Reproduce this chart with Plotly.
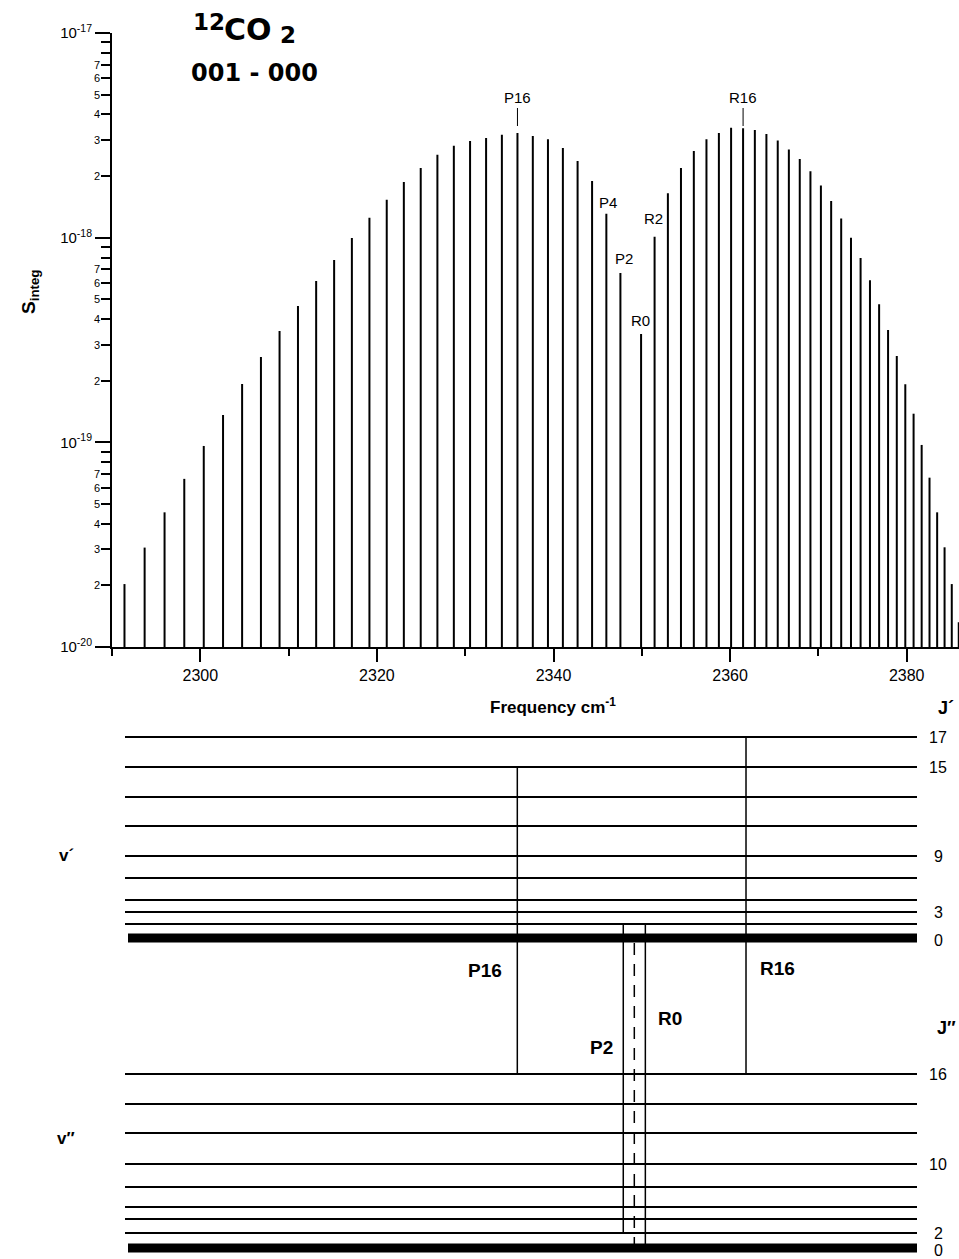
import numpy as np
import plotly.graph_objects as go

# ---------------- data: 12CO2 001-000 band lines ----------------
P_J = [2, 4, 6, 8, 10, 12, 14, 16, 18, 20, 22, 24, 26, 28, 30, 32, 34, 36, 38, 40,
       42, 44, 46, 48, 50, 52, 54, 56, 58, 60]
P_FREQ = [2347.576, 2345.984, 2344.368, 2342.727, 2341.061, 2339.371, 2337.656, 2335.917,
          2334.153, 2332.364, 2330.550, 2328.712, 2326.850, 2324.962, 2323.050, 2321.113,
          2319.153, 2317.166, 2315.155, 2313.121, 2311.061, 2308.976, 2306.867, 2304.734,
          2302.575, 2300.392, 2298.185, 2295.952, 2293.695, 2291.413]
P_S = [6.72e-19, 1.31e-18, 1.89e-18, 2.37e-18, 2.74e-18, 3.03e-18, 3.14e-18, 3.25e-18,
       3.18e-18, 3.07e-18, 2.97e-18, 2.81e-18, 2.54e-18, 2.19e-18, 1.87e-18, 1.53e-18,
       1.25e-18, 9.97e-19, 7.78e-19, 6.14e-19, 4.64e-19, 3.50e-19, 2.61e-19, 1.93e-19,
       1.36e-19, 9.60e-20, 6.63e-20, 4.55e-20, 3.06e-20, 2.03e-20]

R_J = [0, 2, 4, 6, 8, 10, 12, 14, 16, 18, 20, 22, 24, 26, 28, 30, 32, 34, 36, 38, 40,
       42, 44, 46, 48, 50, 52, 54, 56, 58, 60, 62]
R_FREQ = [2349.917, 2351.447, 2352.953, 2354.434, 2355.890, 2357.321, 2358.728, 2360.110,
          2361.468, 2362.801, 2364.110, 2365.393, 2366.652, 2367.887, 2369.096, 2370.281,
          2371.442, 2372.578, 2373.688, 2374.775, 2375.838, 2376.874, 2377.887, 2378.875,
          2379.839, 2380.777, 2381.691, 2382.581, 2383.446, 2384.286, 2385.101, 2385.893]
R_S = [3.38e-19, 1.01e-18, 1.65e-18, 2.19e-18, 2.65e-18, 3.03e-18, 3.25e-18, 3.44e-18,
       3.42e-18, 3.36e-18, 3.21e-18, 2.98e-18, 2.70e-18, 2.42e-18, 2.11e-18, 1.80e-18,
       1.51e-18, 1.24e-18, 1.00e-18, 7.96e-19, 6.19e-19, 4.73e-19, 3.54e-19, 2.64e-19,
       1.92e-19, 1.38e-19, 9.71e-20, 6.72e-20, 4.55e-20, 3.07e-20, 2.03e-20, 1.32e-20]

LABELLED_LINES = ["P16", "R16", "P4", "R2", "P2", "R0"]

X_TICKS = [2300, 2320, 2340, 2360, 2380]
X_MINOR = [2290, 2310, 2330, 2350, 2370]
Y_DECADES = [1e-20, 1e-19, 1e-18, 1e-17]
Y_DECADE_TEXT = ["10<sup>-20</sup>", "10<sup>-19</sup>", "10<sup>-18</sup>", "10<sup>-17</sup>"]
Y_MINOR_DIGITS = [2, 3, 4, 5, 6, 7, 8, 9]
Y_LABELLED_DIGITS = [2, 3, 4, 5, 6, 7]

# ---------------- data: energy level scheme (schematic heights) ----------------
UPPER_J = [17, 15, 13, 11, 9, 7, 5, 3, 1, 0]
UPPER_H = [522, 492, 462, 433, 403, 381, 359, 347, 335, 321]
UPPER_LABELLED = [17, 15, 9, 3, 0]
LOWER_J = [16, 14, 12, 10, 8, 6, 4, 2, 0]
LOWER_H = [185, 155, 126, 95, 72, 52, 40, 26, 11]
LOWER_LABELLED = [16, 10, 2, 0]

TRANS_NAME = ["P16", "R16", "P2", "R0", "Q0"]
TRANS_X = [2335.9, 2361.8, 2347.9, 2350.4, 2349.15]
TRANS_UPPER_J = [15, 17, 1, 1, 0]
TRANS_LOWER_J = [16, 16, 2, 0, 0]
TRANS_ALLOWED = [True, True, True, True, False]

# ---------------- layout helpers ----------------
W, H = 959, 1259
FONT = "Liberation Sans, Arial, Helvetica, sans-serif"
WIDE = "DejaVu Sans, Liberation Sans, sans-serif"
X_RANGE = [2290, 2385.92]
S_FLOOR = 1e-20


def pxx(p):
    return p / W


def pxy(p):
    return 1 - p / H


def f_of_px(p):
    return X_RANGE[0] + (p - 112) * (X_RANGE[1] - X_RANGE[0]) / (959 - 112)


fig = go.Figure()

# spectrum sticks
xs, ys = [], []
for f, s in zip(P_FREQ + R_FREQ, P_S + R_S):
    xs += [f, f, None]
    ys += [S_FLOOR, s, None]
fig.add_trace(go.Scatter(x=xs, y=ys, mode="lines", line=dict(color="black", width=2),
                         hoverinfo="skip", showlegend=False, xaxis="x", yaxis="y"))

# energy levels
lvl_x0, lvl_x1 = f_of_px(125), f_of_px(917)
thin_x, thin_y, thick_x, thick_y = [], [], [], []
for J, h in list(zip(UPPER_J, UPPER_H)) + list(zip(LOWER_J, LOWER_H)):
    if J == 0:
        thick_x += [f_of_px(128), lvl_x1, None]
        thick_y += [h, h, None]
    else:
        thin_x += [lvl_x0, lvl_x1, None]
        thin_y += [h, h, None]
fig.add_trace(go.Scatter(x=thin_x, y=thin_y, mode="lines", line=dict(color="black", width=1.8),
                         hoverinfo="skip", showlegend=False, xaxis="x2", yaxis="y2"))
fig.add_trace(go.Scatter(x=thick_x, y=thick_y, mode="lines", line=dict(color="black", width=9),
                         hoverinfo="skip", showlegend=False, xaxis="x2", yaxis="y2"))

# transitions
up = dict(zip(UPPER_J, UPPER_H))
lo = dict(zip(LOWER_J, LOWER_H))
sx, sy, dx, dy = [], [], [], []
for x, ju, jl, ok in zip(TRANS_X, TRANS_UPPER_J, TRANS_LOWER_J, TRANS_ALLOWED):
    if ok:
        sx += [x, x, None]
        sy += [up[ju], lo[jl], None]
    else:
        dx += [x, x]
        dy += [up[ju] - 5, lo[jl]]
fig.add_trace(go.Scatter(x=sx, y=sy, mode="lines", line=dict(color="black", width=1.5),
                         hoverinfo="skip", showlegend=False, xaxis="x2", yaxis="y2"))
fig.add_trace(go.Scatter(x=dx, y=dy, mode="lines", line=dict(color="black", width=1.5, dash="12px,9px"),
                         hoverinfo="skip", showlegend=False, xaxis="x2", yaxis="y2"))

ann = []
# title
ann.append(dict(text="<b>12</b>", x=pxx(191), y=pxy(22), xanchor="left", yanchor="middle",
                font=dict(size=23, family=WIDE)))
ann.append(dict(text="<b>CO</b>", x=pxx(222), y=pxy(29), xanchor="left", yanchor="middle",
                font=dict(size=30, family=WIDE)))
ann.append(dict(text="<b>2</b>", x=pxx(278), y=pxy(35), xanchor="left", yanchor="middle",
                font=dict(size=23, family=WIDE)))
ann.append(dict(text="<b>001 - 000</b>", x=pxx(189), y=pxy(73), xanchor="left", yanchor="middle",
                font=dict(size=24, family=WIDE)))

# axis titles
ann.append(dict(text="<b>Frequency cm<sup>-1</sup></b>", x=pxx(553), y=pxy(706), xanchor="center",
                yanchor="middle", font=dict(size=17)))
ann.append(dict(text="<b>S<sub>integ</sub></b>", x=pxx(30), y=pxy(292), textangle=-90, xanchor="center",
                yanchor="middle", font=dict(size=19)))

# y minor digit labels
for e in [-20, -19, -18]:
    for d in Y_LABELLED_DIGITS:
        ann.append(dict(text=str(d), x=pxx(102), y=np.log10(d * 10.0 ** e), xref="paper", yref="y",
                        xanchor="right", yanchor="middle", font=dict(size=11)))

# line labels on the spectrum
lines_all = {("P%d" % j): (f, s) for j, f, s in zip(P_J, P_FREQ, P_S)}
lines_all.update({("R%d" % j): (f, s) for j, f, s in zip(R_J, R_FREQ, R_S)})
label_py = {"P16": 97, "R16": 97, "P4": 203, "R2": 218, "P2": 259, "R0": 320}
label_dx = {"P16": 0, "R16": 0, "P4": 0.2, "R2": -0.1, "P2": 0.4, "R0": -0.1}
shapes = []
for name in LABELLED_LINES:
    f, s = lines_all[name]
    ann.append(dict(text=name, x=f + label_dx[name], y=pxy(label_py[name]), xref="x", yref="paper",
                    xanchor="center", yanchor="middle", font=dict(size=15)))
    if name in ("P16", "R16"):
        shapes.append(dict(type="line", xref="x", yref="paper", x0=f, x1=f, y0=pxy(108), y1=pxy(126),
                           line=dict(color="black", width=1)))

# level scheme labels
for J, h in zip(UPPER_J, UPPER_H):
    if J in UPPER_LABELLED:
        ann.append(dict(text=str(J), x=f_of_px(938), y=h - (2 if J == 0 else 0), xref="x2", yref="y2",
                        xanchor="center", yanchor="middle", font=dict(size=16)))
for J, h in zip(LOWER_J, LOWER_H):
    if J in LOWER_LABELLED:
        ann.append(dict(text=str(J), x=f_of_px(938), y=h - (2 if J == 0 else 0), xref="x2", yref="y2",
                        xanchor="center", yanchor="middle", font=dict(size=16)))

trans_label_pos = {"P16": (485, 970), "R16": (777, 968), "R0": (670, 1018), "P2": (601, 1047)}
for name, (px, py) in trans_label_pos.items():
    ann.append(dict(text="<b>%s</b>" % name, x=f_of_px(px), y=H - py, xref="x2", yref="y2",
                    xanchor="center", yanchor="middle", font=dict(size=19)))

ann.append(dict(text="<b>J\u00b4</b>", x=pxx(946), y=pxy(708), xanchor="center", yanchor="middle", font=dict(size=18)))
ann.append(dict(text="<b>J\u2033</b>", x=pxx(946), y=pxy(1028), xanchor="center", yanchor="middle", font=dict(size=18)))
ann.append(dict(text="<b>v\u00b4</b>", x=pxx(66), y=pxy(855), xanchor="center", yanchor="middle", font=dict(size=17)))
ann.append(dict(text="<b>v\u2033</b>", x=pxx(66), y=pxy(1138), xanchor="center", yanchor="middle", font=dict(size=17)))

for a in ann:
    a.setdefault("xref", "paper")
    a.setdefault("yref", "paper")
    a["showarrow"] = False

y_minor = [d * 10.0 ** e for e in [-20, -19, -18] for d in Y_MINOR_DIGITS]

fig.update_layout(
    width=W, height=H,
    margin=dict(l=0, r=0, t=0, b=0, pad=0, autoexpand=False),
    paper_bgcolor="white", plot_bgcolor="white",
    showlegend=False,
    font=dict(family=FONT, color="black"),
    xaxis=dict(domain=[pxx(112), 1], range=X_RANGE, anchor="y", automargin=False,
               tickmode="array", tickvals=X_TICKS, ticktext=[str(t) for t in X_TICKS],
               ticks="outside", ticklen=13, tickwidth=1.5, tickcolor="black",
               showline=True, linecolor="black", linewidth=2,
               showgrid=False, zeroline=False, tickfont=dict(size=16),
               minor=dict(tickmode="array", tickvals=X_MINOR, ticks="outside", ticklen=7,
                          tickwidth=1.5, tickcolor="black", showgrid=False)),
    yaxis=dict(type="log", domain=[pxy(647), pxy(33)], range=[-20, -17], anchor="x", automargin=False,
               tickmode="array", tickvals=Y_DECADES, ticktext=Y_DECADE_TEXT,
               ticks="outside", ticklen=15, tickwidth=1.5, tickcolor="black",
               showline=True, linecolor="black", linewidth=2,
               showgrid=False, zeroline=False, tickfont=dict(size=15),
               minor=dict(tickmode="array", tickvals=y_minor, ticks="outside", ticklen=9,
                          tickwidth=1.5, tickcolor="black", showgrid=False)),
    xaxis2=dict(domain=[pxx(112), 1], range=X_RANGE, anchor="y2", visible=False, automargin=False),
    yaxis2=dict(domain=[0, pxy(729)], range=[0, 530], anchor="x2", visible=False, automargin=False),
    annotations=ann,
    shapes=shapes,
)

fig.write_html("out.html", config={"displayModeBar": False},
               post_script="document.body.style.margin='0px';")
